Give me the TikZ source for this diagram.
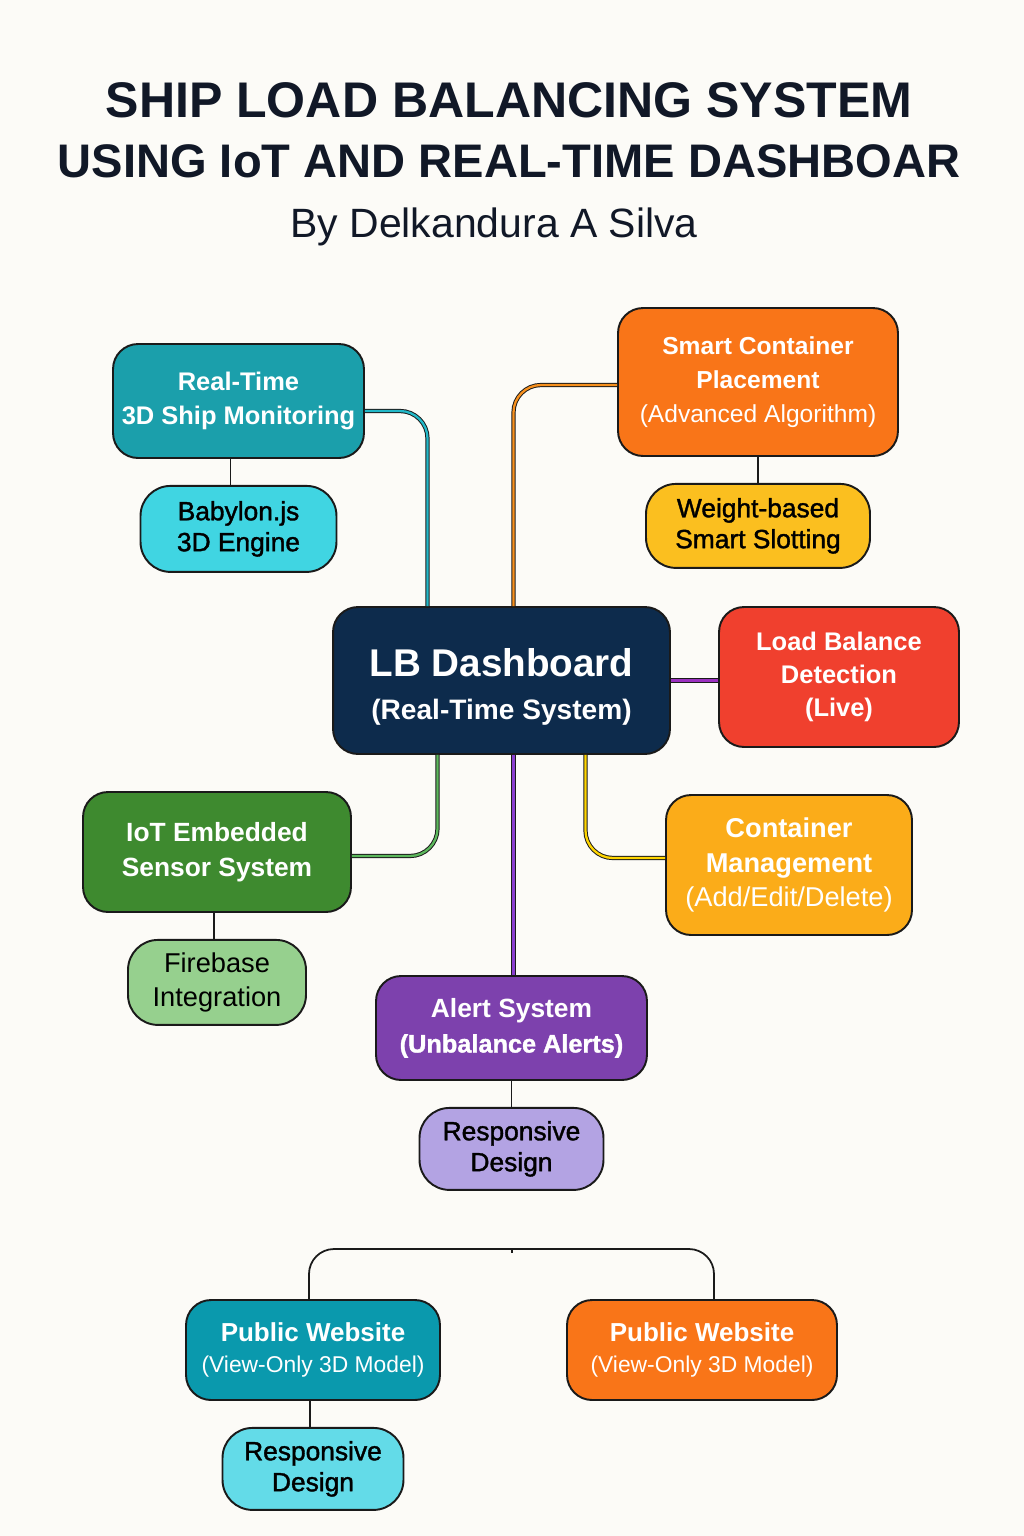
\documentclass[tikz,border=0pt]{standalone}
\usepackage{fontspec}
\setmainfont{Liberation Sans}
\newfontfamily\medfont[FakeBold=1.4]{Liberation Sans}
\usetikzlibrary{positioning}

\definecolor{paper}{HTML}{FCFBF7}
\definecolor{ink}{HTML}{111827}
\definecolor{edge}{HTML}{1A1A1A}
\definecolor{tealbox}{HTML}{1B9FAB}
\definecolor{cyanbox}{HTML}{40D5E2}
\definecolor{orangebox}{HTML}{F97518}
\definecolor{amberbox}{HTML}{FBBF1F}
\definecolor{navybox}{HTML}{0D2B4C}
\definecolor{redbox}{HTML}{F0402E}
\definecolor{greenbox}{HTML}{3E8A2F}
\definecolor{mintbox}{HTML}{96D08E}
\definecolor{goldbox}{HTML}{FBAC19}
\definecolor{purplebox}{HTML}{7D41AD}
\definecolor{lilacbox}{HTML}{B3A3E3}
\definecolor{petrolbox}{HTML}{0A99AD}
\definecolor{skybox}{HTML}{63DBE8}
\definecolor{linkteal}{HTML}{22B8C8}
\definecolor{linkorange}{HTML}{F7901E}
\definecolor{linkviolet}{HTML}{9B30C0}
\definecolor{linkgreen}{HTML}{5CB85C}
\definecolor{linkyellow}{HTML}{FFD500}
\definecolor{linkpurple}{HTML}{8A3FD0}

\begin{document}
\begin{tikzpicture}[
	  x=0.02cm, y=-0.02cm,
	  node distance=0.52cm,
	  mainbox/.style={rectangle, rounded corners=0.5cm, draw=edge, line width=1.1pt, text=white, align=center, inner sep=0pt, font=\bfseries\fontsize{14.5}{19}\selectfont},
	  subbox/.style={rectangle, rounded corners=0.6cm, draw=edge, line width=1.1pt, text=black, align=center, inner sep=0pt, font=\medfont\fontsize{15}{17.6}\selectfont},
	  stem/.style={draw=edge, line width=1pt},
	  wire/.style={draw=edge, line width=0.55pt, double=#1, double distance=1.3pt, rounded corners=0.55cm}
	]

	\fill [paper] (0,0) rectangle (1024,1536);

	% heading
	\node (title) at (509,130) [text=ink, align=center, font=\bfseries\fontsize{27.5}{34}\selectfont] {{\fontsize{28.5}{34}\selectfont SHIP LOAD BALANCING SYSTEM}\\{\fontsize{26.8}{34}\selectfont USING IoT AND REAL-TIME DASHBOAR}};
	\node (byline) at (494,227) [text=ink, font=\fontsize{23.3}{26}\selectfont] {By Delkandura A Silva};

	% boxes
	\node (rt) at (238.5,401) [mainbox, fill=tealbox, minimum width=5.02cm, minimum height=2.28cm] {Real-Time\\3D Ship Monitoring};
	\node (babylon) [subbox, fill=cyanbox, below=of rt, minimum width=3.92cm, minimum height=1.72cm] {Babylon.js\\3D Engine};
	\node (smart) at (758,382) [mainbox, fill=orangebox, minimum width=5.6cm, minimum height=2.96cm, font=\bfseries\fontsize{14}{19.5}\selectfont] {Smart Container\\Placement\\{\mdseries (Advanced Algorithm)}};
	\node (weight) [subbox, fill=amberbox, below=of smart, minimum width=4.48cm, minimum height=1.68cm] {Weight-based\\Smart Slotting};
	\node (dash) at (501.5,680.5) [mainbox, fill=navybox, minimum width=6.74cm, minimum height=2.94cm, font=\bfseries\fontsize{16}{24.5}\selectfont] {\rule{0pt}{23pt}{\fontsize{22}{24.5}\selectfont LB Dashboard}\\(Real-Time System)};
	\node (load) at (839,677) [mainbox, fill=redbox, minimum width=4.8cm, minimum height=2.8cm, font=\bfseries\fontsize{14.5}{18.8}\selectfont] {Load Balance\\Detection\\(Live)};
	\node (iot) at (217,852) [mainbox, fill=greenbox, minimum width=5.36cm, minimum height=2.4cm, font=\bfseries\fontsize{15}{20}\selectfont] {IoT Embedded\\Sensor System};
	\node (firebase) [subbox, fill=mintbox, below=of iot, minimum width=3.56cm, minimum height=1.7cm, font=\fontsize{15.5}{19}\selectfont] {Firebase\\Integration};
	\node (container) at (789,865) [mainbox, fill=goldbox, minimum width=4.92cm, minimum height=2.8cm, font=\bfseries\fontsize{15.5}{19.5}\selectfont] {Container\\Management\\{\mdseries (Add/Edit/Delete)}};
	\node (alert) at (511.5,1028) [mainbox, fill=purplebox, minimum width=5.42cm, minimum height=2.08cm, font=\bfseries\fontsize{15}{20}\selectfont] {Alert System\\{\medfont\fontsize{14.4}{20}\selectfont (Unbalance Alerts)}};
	\node (resp) [subbox, fill=lilacbox, below=of alert, minimum width=3.68cm, minimum height=1.64cm] {Responsive\\Design};
	\node (pubteal) at (313,1350) [mainbox, fill=petrolbox, minimum width=5.08cm, minimum height=2.0cm, font=\bfseries\fontsize{14.8}{18}\selectfont] {Public Website\\{\mdseries\fontsize{13}{18}\selectfont (View-Only 3D Model)}};
	\node (puborange) at (702,1350) [mainbox, fill=orangebox, minimum width=5.4cm, minimum height=2.0cm, font=\bfseries\fontsize{14.8}{18}\selectfont] {Public Website\\{\mdseries\fontsize{13}{18}\selectfont (View-Only 3D Model)}};
	\node (respsky) [subbox, fill=skybox, below=of pubteal, minimum width=3.62cm, minimum height=1.64cm] {Responsive\\Design};

	% links to the dashboard
	\draw [wire=linkteal] ([yshift=-0.2cm]rt.east) -| ([xshift=-1.48cm]dash.north);
	\draw [wire=linkorange] ([yshift=-0.06cm]smart.west) -| ([xshift=0.24cm]dash.north);
	\draw [wire=linkviolet] (dash.east) -- (dash.east -| load.west);
	\draw [wire=linkgreen] ([xshift=-1.28cm]dash.south) |- ([yshift=-0.08cm]iot.east);
	\draw [wire=linkyellow] ([xshift=1.68cm]dash.south) |- ([yshift=0.14cm]container.west);
	\draw [wire=linkpurple] ([xshift=0.24cm]dash.south) -- ([xshift=0.24cm]dash.south |- alert.north);

	% child stems
	\draw [stem] ([xshift=-0.16cm]rt.south) -- ([xshift=-0.16cm]rt.south |- babylon.north);
	\draw [stem] (smart) -- (weight);
	\draw [stem] ([xshift=-0.06cm]iot.south) -- ([xshift=-0.06cm]iot.south |- firebase.north);
	\draw [stem] (alert) -- (resp);
	\draw [stem] ([xshift=-0.06cm]pubteal.south) -- ([xshift=-0.06cm]pubteal.south |- respsky.north);

	% website fork
	\coordinate (fork) at (512,1249);
	\draw [stem, rounded corners=0.5cm] ([xshift=-0.08cm]pubteal.north) |- (fork) -| ([xshift=0.24cm]puborange.north);
	\draw [stem, line width=0.6pt] (fork) -- ++(0,4);

\end{tikzpicture}
\end{document}
